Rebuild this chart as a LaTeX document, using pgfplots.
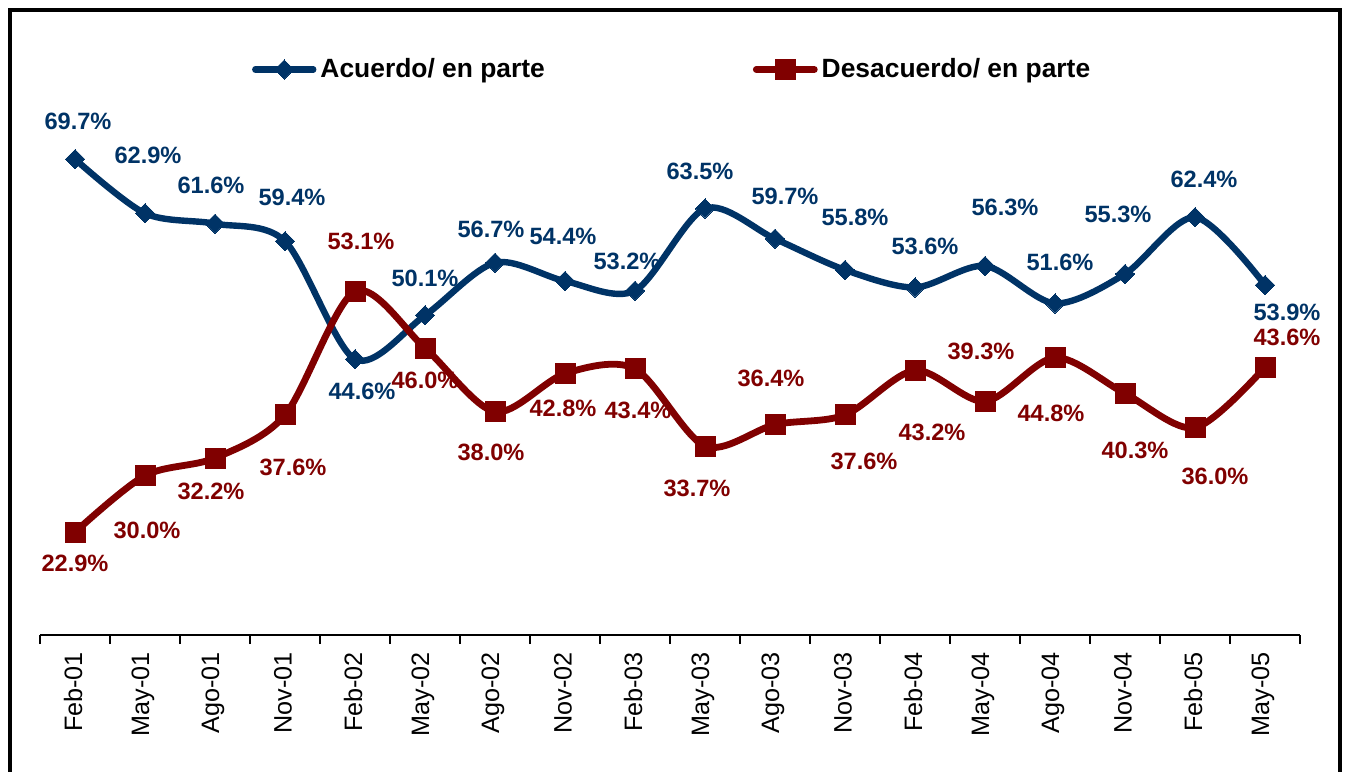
\documentclass[border=0pt]{standalone}
\usepackage{fontspec}
\setmainfont{Liberation Sans}
\usepackage{pgfplots}
\usepackage{pgfplotstable}
\pgfplotsset{compat=1.18}
\definecolor{cblue}{HTML}{003366}
\definecolor{cred}{HTML}{800000}

% x  y  dx(pt) dy(pt)
\pgfplotstableread{
x y dx dy
0 69.7 1.5 19
1 62.9 1.5 29
2 61.6 -2 19
3 59.4 3.5 22
4 44.6 3.5 -16
5 50.1 0 18.5
6 56.7 -2 16.5
7 54.4 -1 22.5
8 53.2 -4 14.5
9 63.5 -2.5 18.5
10 59.7 5 21
11 55.8 5 26.5
12 53.6 5 20.5
13 56.3 10 29.5
14 51.6 2.5 20.5
15 55.3 -3.5 30
16 62.4 4.5 19
17 53.9 11 -13.5
}\acuerdo

\pgfplotstableread{
x y dx dy
0 22.9 0 -15.5
1 30.0 1 -27.5
2 32.2 -2 -16.5
3 37.6 4 -26
4 53.1 3 25
5 46.0 0 -16
6 38.0 -2 -20.5
7 42.8 -1 -17.5
8 43.4 1.5 -21
9 33.7 -4 -21
10 36.4 -2 23
11 37.6 9.5 -23
12 43.2 8.5 -31
13 39.3 -2 25
14 44.8 -2 -28
15 40.3 5 -28.5
16 36.0 10 -24.5
17 43.6 11 15
}\desacuerdo

\begin{document}
\begin{tikzpicture}
\path[use as bounding box] (0pt,0pt) rectangle (673pt,386pt);
\draw[line width=2pt] (4.75pt,0pt) -- (4.75pt,381pt) -- (670pt,381pt) -- (670pt,0pt);
\begin{axis}[
  at={(20pt,68.5pt)}, anchor=south west,
  scale only axis, width=630pt, height=279pt,
  xmin=-0.5, xmax=17.5, ymin=10, ymax=80,
  clip=false,
  axis x line=bottom, axis y line=none,
  axis line style={-, line width=1pt, black},
  xtick={0,...,17},
  xticklabels={Feb-01,May-01,Ago-01,Nov-01,Feb-02,May-02,Ago-02,Nov-02,Feb-03,May-03,Ago-03,Nov-03,Feb-04,May-04,Ago-04,Nov-04,Feb-05,May-05},
  minor xtick={-0.5,0.5,...,17.5},
  major tick length=0pt, minor tick length=4.5pt, tick align=outside,
  minor tick style={line width=1pt, black},
  xticklabel style={yshift=-5pt, xshift=-1pt, rotate=90, anchor=east, font=\fontsize{12.6}{14}\selectfont},
  ytick=\empty,
  legend columns=2,
  legend style={at={(axis description cs:0.168,1.0135)}, anchor=west, draw=none, fill=none,
    inner sep=0pt, font=\bfseries\fontsize{13.2}{15}\selectfont,
    /tikz/every even column/.append style={column sep=102pt}},
  legend image code/.code={\draw[mark repeat=2,mark phase=2] plot coordinates {(0pt,0pt) (14.5pt,0pt) (29pt,0pt)};},
  visualization depends on={\thisrow{dx} \as \dx},
  visualization depends on={\thisrow{dy} \as \dy},
  nodes near coords={\pgfmathprintnumber[fixed,fixed zerofill,precision=1,assume math mode=true]{\pgfplotspointmeta}\%},
  nodes near coords style={anchor=center, xshift=\dx*1pt, yshift=\dy*1pt, font=\bfseries\fontsize{11.8}{14}\selectfont},
  point meta=y,
]
\addplot[cblue, line width=3.2pt, line cap=round, smooth, tension=0.5,
  mark=square*, mark size=3.4pt, mark options={rotate=45, solid, fill=cblue, line width=0pt},
  nodes near coords style={text=cblue}] table[x=x,y=y] {\acuerdo};
\addlegendentry{Acuerdo/ en parte}
\addplot[cred, line width=3.4pt, line cap=round, smooth, tension=0.5,
  mark=square*, mark size=5pt, mark options={solid, fill=cred, line width=0pt},
  nodes near coords style={text=cred}] table[x=x,y=y] {\desacuerdo};
\addlegendentry{Desacuerdo/ en parte}
\end{axis}
\end{tikzpicture}
\end{document}
